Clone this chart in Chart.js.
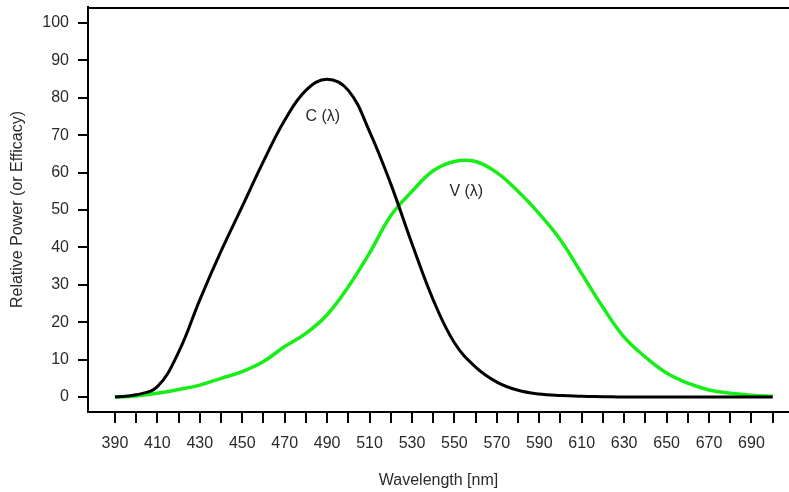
<!DOCTYPE html>
<html>
<head>
<meta charset="utf-8">
<script src="https://cdn.jsdelivr.net/npm/chart.js@4/dist/chart.umd.min.js"></script>
<style>
  html, body { margin: 0; padding: 0; background: #fff; }
  #chart { display: block; }
</style>
</head>
<body>
<canvas id="chart" width="789" height="492"></canvas>
<script>
// Wavelength samples (nm), also used as the x tick positions
const wavelengths = [390, 400, 410, 420, 430, 440, 450, 460, 470, 480,
                     490, 500, 510, 520, 530, 540, 550, 560, 570, 580,
                     590, 600, 610, 620, 630, 640, 650, 660, 670, 680,
                     690, 700];

// C(lambda) - black curve
const cLambda = [0, 0.6, 2.8, 12, 26, 39, 51, 63, 74, 82,
                 85, 82, 71, 57, 41, 26, 14.5, 8, 4, 1.8,
                 0.8, 0.4, 0.2, 0.1, 0, 0, 0, 0, 0, 0,
                 0, 0];

// V(lambda) - green curve
const vLambda = [0, 0.3, 1, 2, 3.2, 5, 6.8, 9.5, 13.5, 17,
                 22, 29.5, 38.5, 48.5, 55, 60.5, 63, 63, 60, 55,
                 49, 42, 33, 24, 16, 10.7, 6.4, 3.7, 1.9, 1,
                 0.5, 0.2];

const yTicks = [0, 10, 20, 30, 40, 50, 60, 70, 80, 90, 100];

// curve name labels, in data coordinates
const labelText = ['C (λ)', 'V (λ)'];
const labelX = [488, 555.6];
const labelY = [75, 55];

const FONT = '"Liberation Sans", Arial, Helvetica, sans-serif';
const TEXT_COLOR = '#2a2a2a';

const framePlugin = {
    id: 'frame',
    afterDatasetsDraw(chart) {
        const { ctx, chartArea, scales } = chart;
        ctx.save();
        // top edge of the plot frame
        ctx.strokeStyle = '#000';
        ctx.lineWidth = 2;
        ctx.beginPath();
        ctx.moveTo(chartArea.left, chartArea.top + 1);
        ctx.lineTo(chartArea.right, chartArea.top + 1);
        ctx.stroke();
        // curve labels
        ctx.fillStyle = TEXT_COLOR;
        ctx.font = '16px ' + FONT;
        ctx.textAlign = 'center';
        ctx.textBaseline = 'middle';
        labelText.forEach((t, i) => {
            ctx.fillText(t, scales.x.getPixelForValue(labelX[i]), scales.y.getPixelForValue(labelY[i]));
        });
        ctx.restore();
    }
};

new Chart(document.getElementById('chart').getContext('2d'), {
    type: 'line',
    data: {
        datasets: [
            {
                label: 'C (λ)',
                data: wavelengths.map((w, i) => ({ x: w, y: cLambda[i] })),
                borderColor: '#000',
                borderWidth: 3,
                pointRadius: 0,
                tension: 0.4
            },
            {
                label: 'V (λ)',
                data: wavelengths.map((w, i) => ({ x: w, y: vLambda[i] })),
                borderColor: '#17ee17',
                borderWidth: 3.5,
                pointRadius: 0,
                tension: 0.4
            }
        ]
    },
    options: {
        responsive: false,
        devicePixelRatio: 1,
        animation: false,
        layout: { padding: { top: 7, right: 0, left: 0, bottom: 0 } },
        plugins: { legend: { display: false }, tooltip: { enabled: false } },
        scales: {
            x: {
                type: 'linear',
                min: 377.3,
                max: 707.7,
                afterBuildTicks: scale => { scale.ticks = wavelengths.map(v => ({ value: v })); },
                afterFit: scale => {
                    scale.height = 80;
                    scale.paddingLeft = 0;
                    scale.paddingRight = 0;
                },
                grid: { drawOnChartArea: false, color: '#000', lineWidth: 2, tickLength: 11 },
                border: { display: true, color: '#000', width: 2 },
                ticks: {
                    autoSkip: false,
                    maxRotation: 0,
                    padding: 11,
                    color: TEXT_COLOR,
                    font: { family: FONT, size: 16 },
                    callback: v => ((v - 390) % 20 === 0 ? String(v) : '')
                },
                title: {
                    display: true,
                    text: 'Wavelength [nm]',
                    color: TEXT_COLOR,
                    font: { family: FONT, size: 16 },
                    padding: { top: 0, bottom: 2 }
                }
            },
            y: {
                min: -4,
                max: 104.3,
                afterBuildTicks: scale => { scale.ticks = yTicks.map(v => ({ value: v })); },
                afterFit: scale => {
                    scale.width = 88;
                    scale.paddingTop = 0;
                    scale.paddingBottom = 0;
                },
                grid: { drawOnChartArea: false, color: '#000', lineWidth: 2, tickLength: 10 },
                border: { display: true, color: '#000', width: 2 },
                ticks: {
                    padding: 9,
                    color: TEXT_COLOR,
                    font: { family: FONT, size: 16 }
                },
                title: {
                    display: true,
                    text: 'Relative Power (or Efficacy)',
                    color: TEXT_COLOR,
                    font: { family: FONT, size: 16 },
                    padding: { top: 8, bottom: 0 }
                }
            }
        }
    },
    plugins: [framePlugin]
});
</script>
</body>
</html>
